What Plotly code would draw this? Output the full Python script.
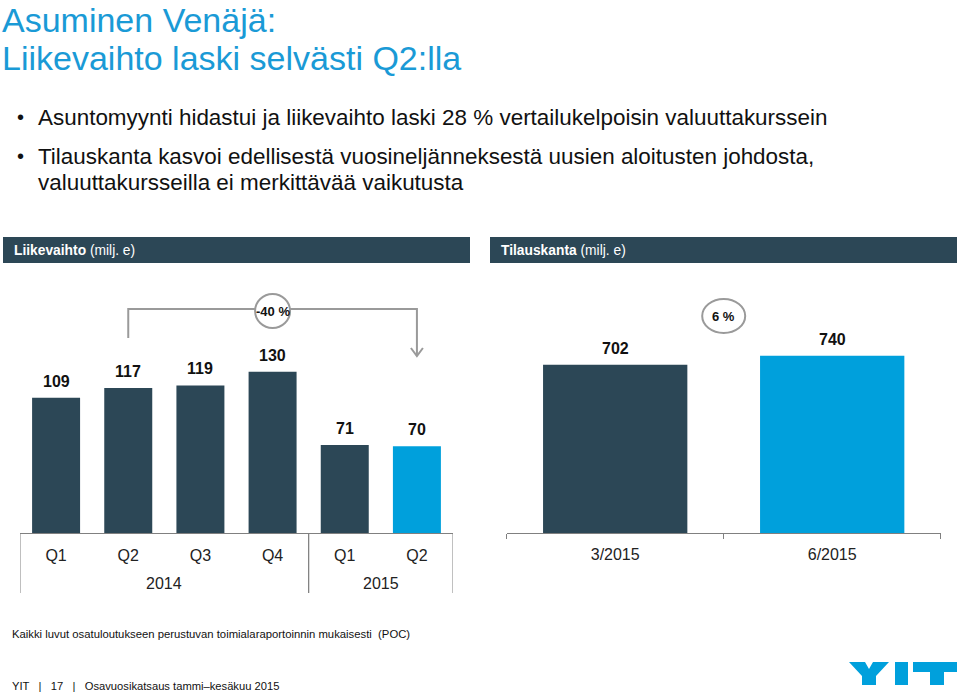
import plotly.graph_objects as go

W, H = 960, 696

# ---- data ----
rev_years = ["2014", "2014", "2014", "2014", "2015", "2015"]
rev_quarters = ["Q1", "Q2", "Q3", "Q4", "Q1", "Q2"]
rev_values = [109, 117, 119, 130, 71, 70]
ob_labels = ["3/2015", "6/2015"]
ob_values = [702, 740]
rev_change = "-40 %"
ob_change = "6 %"

DARK = "#2c4756"
BLUE = "#00a0dc"
TITLE_BLUE = "#1a9ad6"
GRAY = "#9a9a9a"
AXIS = "#808080"
FONT = "Liberation Sans, Arial, sans-serif"


def px(x):
    return x / W


def py(y):
    return 1 - y / H


n = len(rev_values)
idx = list(range(n))

fig = go.Figure()

rev_colors = [DARK] * (n - 1) + [BLUE]
fig.add_trace(go.Bar(
    x=idx, y=rev_values, marker=dict(color=rev_colors, line=dict(width=0)),
    width=0.665, xaxis="x", yaxis="y", hoverinfo="skip"))
ob_colors = [DARK, BLUE]
fig.add_trace(go.Bar(
    x=ob_labels, y=ob_values, marker=dict(color=ob_colors, line=dict(width=0)),
    width=0.665, xaxis="x2", yaxis="y2", hoverinfo="skip"))

y_bottom = py(533)
y_top = py(290)
left_dom = [px(20), px(453)]
right_dom = [px(506.7), px(940.7)]
rev_scale = 1.24
ob_scale = 0.2395
plot_h = 533 - 290

tick_font = dict(size=16, color="#222", family=FONT)
fig.update_layout(
    width=W, height=H, margin=dict(l=0, r=0, t=0, b=0),
    paper_bgcolor="white", plot_bgcolor="white", showlegend=False,
    font=dict(family=FONT, color="#222"),
    xaxis=dict(domain=left_dom, range=[-0.5, n - 0.5], tickmode="array", tickvals=idx,
               ticktext=rev_quarters, showline=True, linecolor=AXIS, linewidth=1,
               showgrid=False, zeroline=False, ticks="", ticklabelstandoff=8,
               tickfont=tick_font),
    yaxis=dict(domain=[y_bottom, y_top], range=[0, plot_h / rev_scale], visible=False),
    xaxis2=dict(domain=right_dom, anchor="y2", showline=True, linecolor=AXIS,
                linewidth=1, showgrid=False, zeroline=False, ticks="outside", ticklen=5,
                tickcolor=AXIS, tickson="boundaries", ticklabelstandoff=7,
                tickfont=tick_font),
    yaxis2=dict(domain=[y_bottom, y_top], range=[0, plot_h / ob_scale], visible=False,
                anchor="x2"),
)

ann = []
shapes = []

# Title
for yy, txt in [(19.5, "Asuminen Venäjä:"), (58, "Liikevaihto laski selvästi Q2:lla")]:
    ann.append(dict(x=px(0), y=py(yy), xref="paper", yref="paper", xanchor="left",
                    yanchor="middle", text=txt, showarrow=False,
                    font=dict(size=34, color=TITLE_BLUE, family=FONT)))

# Bullets
bullets = [
    (117, "Asuntomyynti hidastui ja liikevaihto laski 28 % vertailukelpoisin valuuttakurssein", True),
    (156, "Tilauskanta kasvoi edellisestä vuosineljänneksestä uusien aloitusten johdosta,", True),
    (182, "valuuttakursseilla ei merkittävää vaikutusta", False),
]
for yy, txt, dot in bullets:
    if dot:
        ann.append(dict(x=px(15), y=py(yy), xref="paper", yref="paper", xanchor="left",
                        yanchor="middle", text="•", showarrow=False,
                        font=dict(size=20, color="#111", family=FONT)))
    ann.append(dict(x=px(36), y=py(yy), xref="paper", yref="paper", xanchor="left",
                    yanchor="middle", text=txt, showarrow=False,
                    font=dict(size=22.45, color="#111", family=FONT)))

# Header bars
for x0, x1, label in [(3, 470, "<b>Liikevaihto</b> (milj. e)"),
                      (490, 957, "<b>Tilauskanta</b> (milj. e)")]:
    shapes.append(dict(type="rect", xref="paper", yref="paper", x0=px(x0), x1=px(x1),
                       y0=py(263), y1=py(237), fillcolor=DARK, line=dict(width=0), layer="below"))
    ann.append(dict(x=px(x0 + 9), y=py(250.5), xref="paper", yref="paper", xanchor="left",
                    yanchor="middle", text=label, showarrow=False,
                    font=dict(size=13.8, color="white", family=FONT)))

# Year group labels and dividers (left chart)
groups = []
for i, yr in enumerate(rev_years):
    if not groups or groups[-1][0] != yr:
        groups.append([yr, i, i])
    else:
        groups[-1][2] = i
for yr, a, b in groups:
    ann.append(dict(x=(a + b) / 2, y=py(583), xref="x", yref="paper", text=yr,
                    showarrow=False, yanchor="middle", font=tick_font))
    for xd in (a - 0.5, b + 0.5):
        shapes.append(dict(type="line", xref="x", yref="paper", x0=xd, x1=xd,
                           y0=py(533), y1=py(593), line=dict(color=AXIS, width=1)))

# Value labels
lab_font = dict(size=16, color="#111", family=FONT)
for i, v in enumerate(rev_values):
    ann.append(dict(x=i, y=v, xref="x", yref="y", text=f"<b>{v}</b>", showarrow=False,
                    yanchor="bottom", yshift=6, font=lab_font))
for lab, v in zip(ob_labels, ob_values):
    ann.append(dict(x=lab, y=v, xref="x2", yref="y2", text=f"<b>{v}</b>", showarrow=False,
                    yanchor="bottom", yshift=6, font=lab_font))

# -40 % bracket (Q2 2014 -> Q2 2015)
def ry(pyv):
    return (533 - pyv) / rev_scale

line_style = dict(color=GRAY, width=2)
xs, xe = 1, 5
shapes.append(dict(type="path", xref="x", yref="y",
                   path=f"M {xs},{ry(338)} L {xs},{ry(309)} L {xe},{ry(309)} L {xe},{ry(356)}",
                   line=line_style))
ux = n / 433.0
shapes.append(dict(type="path", xref="x", yref="y",
                   path=f"M {xe - 6*ux},{ry(348)} L {xe},{ry(356)} L {xe + 6*ux},{ry(348)}",
                   line=line_style))
shapes.append(dict(type="circle", xref="x", yref="y", xsizemode="pixel", ysizemode="pixel",
                   xanchor=3, yanchor=ry(311), x0=-17.5, x1=17.5, y0=-17, y1=17,
                   fillcolor="white", line=line_style))
ann.append(dict(x=3, y=ry(311), xref="x", yref="y", text=f"<b>{rev_change}</b>",
                showarrow=False, font=dict(size=13, color="#111", family=FONT),
                yanchor="middle"))

# 6 % ellipse
oy = (533 - 316) / ob_scale
shapes.append(dict(type="circle", xref="x2", yref="y2", xsizemode="pixel", ysizemode="pixel",
                   xanchor=0.5, yanchor=oy, x0=-21.5, x1=21.5, y0=-17, y1=17,
                   fillcolor="white", line=line_style))
ann.append(dict(x=0.5, y=oy, xref="x2", yref="y2", text=f"<b>{ob_change}</b>", showarrow=False,
                font=dict(size=13, color="#111", family=FONT), yanchor="middle"))

# Footnote & footer
ann.append(dict(x=px(10), y=py(634), xref="paper", yref="paper", xanchor="left", yanchor="middle",
                text="Kaikki luvut osatuloutukseen perustuvan toimialaraportoinnin mukaisesti  (POC)",
                showarrow=False, font=dict(size=11.3, color="#111", family=FONT)))
ann.append(dict(x=px(10), y=py(686), xref="paper", yref="paper", xanchor="left", yanchor="middle",
                text="YIT   |   17   |   Osavuosikatsaus tammi–kesäkuu 2015",
                showarrow=False, font=dict(size=11.2, color="#111", family=FONT)))

# YIT logo (drawn)
def pth(points):
    return "M " + " L ".join(f"{px(a)},{py(b)}" for a, b in points) + " Z"

logo_parts = [
    [(849, 662), (865, 662), (869, 669), (873, 662), (889, 662), (876, 676), (876, 685),
     (862, 685), (862, 676)],
    [(895, 662), (908, 662), (908, 685), (895, 685)],
    [(913, 662), (957, 662), (957, 672), (944, 672), (944, 685), (930, 685), (930, 672),
     (913, 672)],
]
for p in logo_parts:
    shapes.append(dict(type="path", xref="paper", yref="paper", path=pth(p),
                       fillcolor=BLUE, line=dict(width=0)))

fig.update_layout(annotations=ann, shapes=shapes)
fig.write_html("out.html", config={"displayModeBar": False},
               post_script="document.body.style.margin='0px';")
